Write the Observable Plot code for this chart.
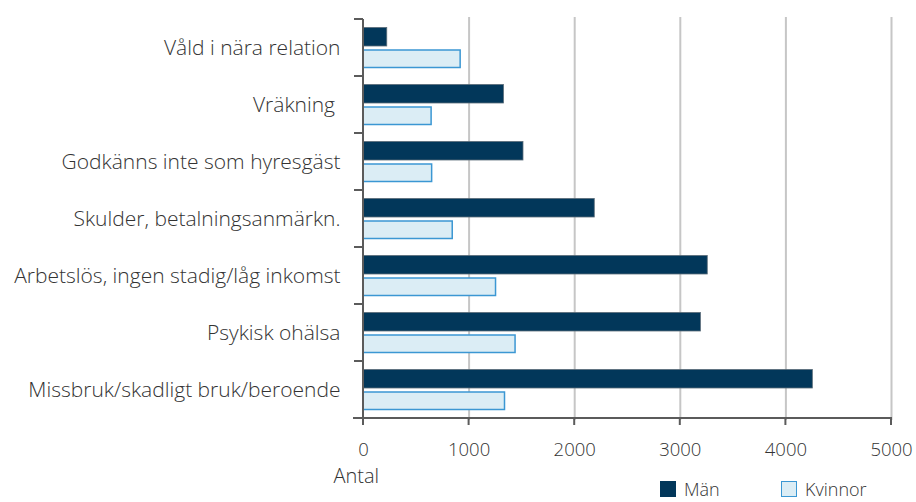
<!DOCTYPE html>
<html><head><meta charset="utf-8">
<script src="https://cdn.jsdelivr.net/npm/d3@7"></script>
<script src="https://cdn.jsdelivr.net/npm/@observablehq/plot@0.6"></script>
<style>
body{margin:0;background:#fff;font-family:"Open Sans",sans-serif;position:relative;width:916px;height:502px;overflow:hidden;}
#chart svg{display:block;}
#legend{position:absolute;left:0;top:480px;width:916px;height:18px;font-size:18px;font-weight:300;color:#333;line-height:18px;}
.item{position:absolute;top:0;display:flex;align-items:center;height:18px;}
.sw{width:16px;height:16px;box-sizing:border-box;margin-right:8px;}
</style></head>
<body>
<div id="chart"></div>
<div id="legend"></div>
<script>
const categories = ["Våld i nära relation","Vräkning\u00a0","Godkänns inte som hyresgäst","Skulder, betalningsanmärkn.","Arbetslös, ingen stadig/låg inkomst","Psykisk ohälsa","Missbruk/skadligt bruk/beroende"];
const man = [225, 1330, 1515, 2190, 3260, 3195, 4255];
const kvinnor = [920, 645, 650, 845, 1255, 1440, 1340];
const xTicks = [0, 1000, 2000, 3000, 4000, 5000];
const seriesNames = ["Män", "Kvinnor"];
const colors = {Män: {fill: "#02375a", stroke: "#5a6b78"}, Kvinnor: {fill: "#dbedf5", stroke: "#3b97d3"}};

const dataMan = categories.map((c, i) => ({cat: c, value: man[i]}));
const dataKv = categories.map((c, i) => ({cat: c, value: kvinnor[i]}));

function frameMark(index, scales, values, dimensions) {
  const {x, y} = scales;
  const g = d3.create("svg:g");
  const bw = y.bandwidth ? y.bandwidth() : (dimensions.height - dimensions.marginTop - dimensions.marginBottom) / categories.length;
  const x0 = x(0);
  const top = y(categories[0]);
  const bottom = y(categories[categories.length - 1]) + bw;
  const c = "#5b5b5b";
  g.append("line").attr("x1", x0).attr("x2", x0).attr("y1", top).attr("y2", bottom).attr("stroke", c).attr("stroke-width", 2);
  categories.forEach(cat => {
    g.append("line").attr("x1", x0 - 9).attr("x2", x0).attr("y1", y(cat)).attr("y2", y(cat)).attr("stroke", c).attr("stroke-width", 2);
  });
  g.append("line").attr("x1", x0 - 10).attr("x2", x(5000) + 1).attr("y1", bottom).attr("y2", bottom).attr("stroke", c).attr("stroke-width", 2);
  xTicks.forEach(t => {
    g.append("line").attr("x1", x(t)).attr("x2", x(t)).attr("y1", bottom).attr("y2", bottom + 7).attr("stroke", c).attr("stroke-width", 2);
  });
  return g.node();
}

const plot = Plot.plot({
  width: 916,
  height: 502,
  marginTop: 17,
  marginBottom: 82,
  marginLeft: 363,
  marginRight: 25,
  style: {fontFamily: "Open Sans", fontSize: "18px", color: "#333", fontWeight: 300},
  x: {domain: [0, 5000]},
  y: {domain: categories, padding: 0},
  marks: [
    Plot.gridX(xTicks.slice(1), {stroke: "#c6c6c6", strokeWidth: 2, strokeOpacity: 1}),
    Plot.barX(dataMan, {y: "cat", x: "value", fill: colors["Män"].fill, stroke: colors["Män"].stroke, strokeWidth: 0.8, insetTop: 8.5, insetBottom: 30}),
    Plot.barX(dataKv, {y: "cat", x: "value", fill: colors["Kvinnor"].fill, stroke: colors["Kvinnor"].stroke, strokeWidth: 1.5, insetTop: 31, insetBottom: 8.5}),
    frameMark,
    Plot.axisY({tickSize: 0, tickPadding: 23, label: null, fontSize: 21, fill: "#333"}),
    Plot.axisX(xTicks, {tickSize: 0, tickPadding: 22, label: null, fontSize: 18.5, fill: "#333", tickFormat: d => String(d)}),
    Plot.text(["Antal"], {frameAnchor: "bottom-left", dx: -30, dy: 62, textAnchor: "start", fontSize: 20, fill: "#333"})
  ]
});
document.getElementById("chart").appendChild(plot);

const legend = document.getElementById("legend");
const lx = [660, 781];
seriesNames.forEach((s, i) => {
  const it = document.createElement("div");
  it.className = "item";
  it.style.left = lx[i] + "px";
  const sw = document.createElement("div");
  sw.className = "sw";
  sw.style.background = colors[s].fill;
  sw.style.border = i === 0 ? "none" : "1.5px solid " + colors[s].stroke;
  it.appendChild(sw);
  const t = document.createElement("span");
  t.textContent = s;
  it.appendChild(t);
  legend.appendChild(it);
});
</script>
</body></html>
